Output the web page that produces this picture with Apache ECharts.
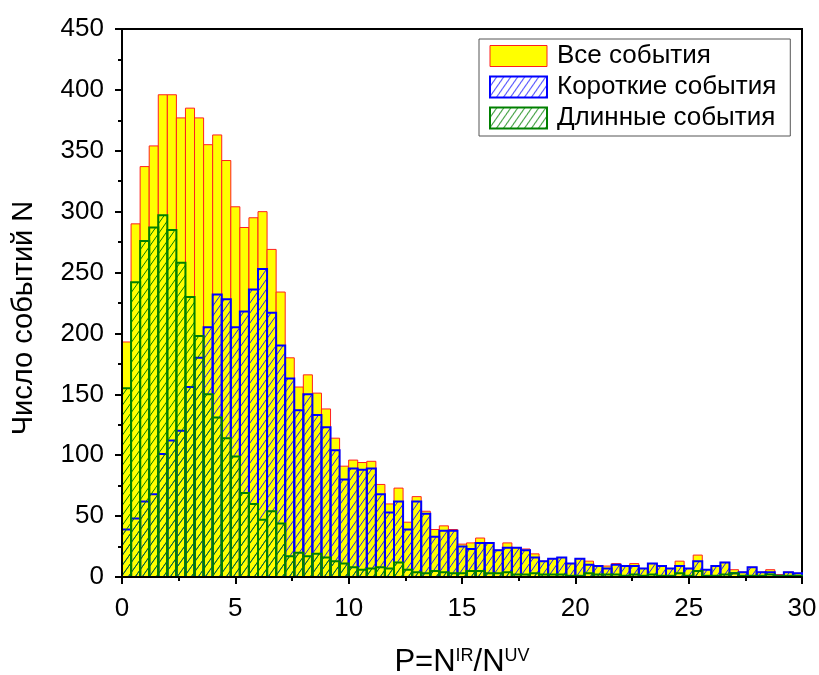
<!DOCTYPE html>
<html>
<head>
<meta charset="utf-8">
<script src="https://cdn.jsdelivr.net/npm/echarts@6/dist/echarts.min.js"></script>
<style>html,body{margin:0;padding:0;background:#fff;}#c{width:819px;height:675px;}</style>
</head>
<body>
<div id="c"></div>
<script>
// Histogram bins: width 0.4, starting at 0
var BIN_WIDTH = 0.4;
var seriesNames = ['Все события', 'Короткие события', 'Длинные события'];
var allEvents = [193,290,337,354,396,396,377,385,377,355,363,342,304,287,295,300,269,234,180,156,
  166,151,138,114,91,96,94,95,76,60,73,45,66,54,39,42,39,27,28,32,
  28,22,28,24,23,19,13,15,16,11,15,13,9,9,11,9,11,7,11,9,
  7,13,7,18,6,9,12,6,4,8,4,6,2,4,3];
var shortEvents = [39,48,62,68,101,112,120,156,180,205,232,228,205,218,236,253,217,190,163,137,
  150,133,123,104,80,89,88,89,68,53,62,39,62,52,33,38,38,25,23,28,
  28,22,24,24,22,16,13,15,16,11,15,10,9,7,10,9,9,7,11,9,
  7,9,7,13,6,9,12,3,4,8,4,4,1,4,3];
var longEvents = [155,242,276,287,297,285,258,230,198,150,131,114,99,69,60,47,54,44,17,20,
  17,19,16,13,11,8,6,7,8,7,12,6,4,3,5,4,3,3,5,5,
  3,3,4,2,2,3,2,2,2,1,1,3,2,2,2,1,2,1,2,1,
  1,3,1,5,1,1,2,3,1,1,1,2,1,1,1];
var xTicks = {min: 0, max: 30, interval: 5};
var yTicks = {min: 0, max: 450, interval: 50};

function hatch(color) {
  var w = 7, h = 10;
  var cv = document.createElement('canvas');
  cv.width = w; cv.height = h;
  var ctx = cv.getContext('2d');
  ctx.strokeStyle = color;
  ctx.lineWidth = 1;
  for (var k = -1; k <= 1; k++) {
    ctx.beginPath();
    ctx.moveTo(k * w - 0.7, h + 1);
    ctx.lineTo((k + 1) * w + 0.7, -1);
    ctx.stroke();
  }
  return {image: cv, repeat: 'repeat'};
}

var styles = [
  {fill: '#ffff00', stroke: '#ff2020', lineWidth: 1},
  {fill: hatch('#1a1aff'), stroke: '#0000ff', lineWidth: 2},
  {fill: hatch('#008000'), stroke: '#008000', lineWidth: 2}
];

function toData(values) {
  return values.map(function (v, i) { return [i * BIN_WIDTH, (i + 1) * BIN_WIDTH, v]; });
}

function makeRender(style) {
  return function (params, api) {
    var p0 = api.coord([api.value(0), api.value(2)]);
    var p1 = api.coord([api.value(1), 0]);
    return {
      type: 'rect',
      shape: {x: p0[0], y: p0[1], width: p1[0] - p0[0], height: p1[1] - p0[1]},
      style: style
    };
  };
}

var valuesList = [allEvents, shortEvents, longEvents];
var series = valuesList.map(function (vals, idx) {
  return {
    name: seriesNames[idx],
    type: 'custom',
    renderItem: makeRender(styles[idx]),
    encode: {x: [0, 1], y: 2},
    data: toData(vals),
    z: 2 + idx,
    itemStyle: {color: idx === 0 ? '#ffff00' : styles[idx].stroke}
  };
});

var FONT = '"Liberation Sans", Arial, sans-serif';
var chart = echarts.init(document.getElementById('c'), null, {renderer: 'canvas'});
chart.setOption({
  backgroundColor: '#fff',
  animation: false,
  grid: {
    left: 122, right: 17, top: 29, bottom: 98,
    outerBoundsMode: 'none', containLabel: false,
    show: true, borderColor: '#000', borderWidth: 2, backgroundColor: 'transparent'
  },
  legend: {
    orient: 'vertical',
    left: 479, top: 39,
    padding: [4, 14, 5, 10],
    itemWidth: 57, itemHeight: 21, itemGap: 5,
    borderColor: '#555', borderWidth: 1,
    selectedMode: false,
    textStyle: {fontFamily: FONT, fontSize: 26, color: '#000', padding: [0, 0, 0, 5]},
    data: [
      {name: seriesNames[0], icon: 'rect', itemStyle: {color: '#ffff00', borderColor: '#ff2020', borderWidth: 1}},
      {name: seriesNames[1], icon: 'rect', itemStyle: {color: styles[1].fill, borderColor: '#0000ff', borderWidth: 2}},
      {name: seriesNames[2], icon: 'rect', itemStyle: {color: styles[2].fill, borderColor: '#008000', borderWidth: 2}}
    ]
  },
  xAxis: {
    type: 'value', min: xTicks.min, max: xTicks.max, interval: xTicks.interval,
    z: 10,
    axisLine: {show: true, lineStyle: {color: '#000', width: 2}},
    axisTick: {show: true, length: 7, lineStyle: {color: '#000', width: 2}},
    minorTick: {show: true, splitNumber: 2, length: 4, lineStyle: {color: '#000', width: 2}},
    splitLine: {show: false},
    axisLabel: {fontFamily: FONT, fontSize: 26, color: '#000', margin: 19},
    name: 'P=N{sup|IR}/N{sup|UV}',
    nameLocation: 'middle',
    nameGap: 70,
    nameTextStyle: {
      fontFamily: FONT, fontSize: 31, color: '#000',
      rich: {sup: {fontFamily: FONT, fontSize: 18, color: '#000', verticalAlign: 'top', lineHeight: 18, padding: [0, 0, 14, 0]}}
    }
  },
  yAxis: {
    type: 'value', min: yTicks.min, max: yTicks.max, interval: yTicks.interval,
    z: 10,
    axisLine: {show: true, lineStyle: {color: '#000', width: 2}},
    axisTick: {show: true, length: 7, lineStyle: {color: '#000', width: 2}},
    minorTick: {show: true, splitNumber: 2, length: 4, lineStyle: {color: '#000', width: 2}},
    splitLine: {show: false},
    axisLabel: {fontFamily: FONT, fontSize: 26, color: '#000', margin: 18},
    name: 'Число событий N',
    nameLocation: 'middle',
    nameGap: 84,
    nameTextStyle: {fontFamily: FONT, fontSize: 29, color: '#000', padding: [0, 30, 0, 0]}
  },
  series: series
});
</script>
</body>
</html>
